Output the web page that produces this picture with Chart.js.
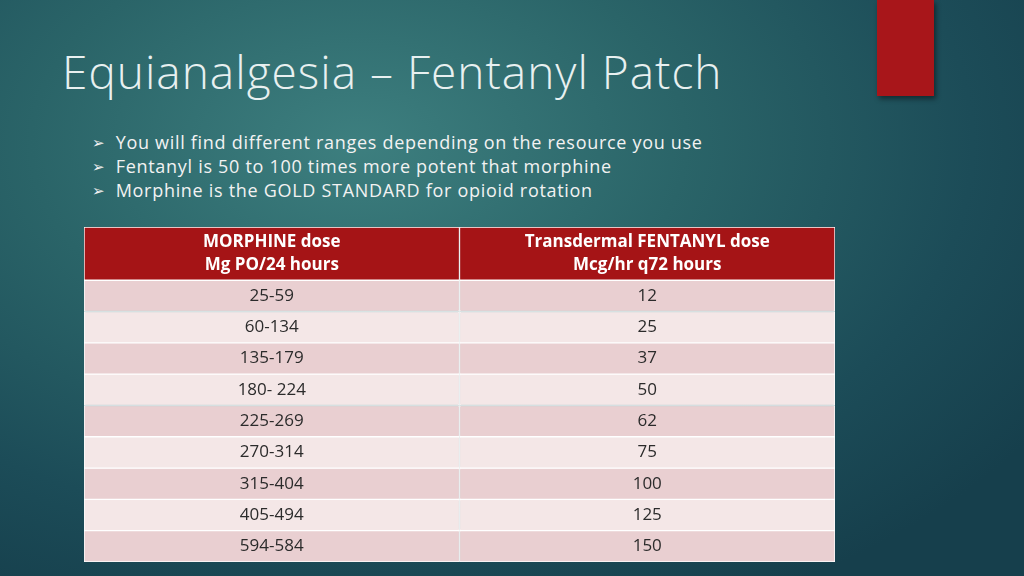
<!DOCTYPE html>
<html><head><meta charset="utf-8">
<script src="https://cdn.jsdelivr.net/npm/chart.js@4"></script>
<style>
html,body{margin:0;padding:0;}
body{width:1024px;height:576px;overflow:hidden;position:relative;font-family:"Open Sans",Lato,sans-serif;
background:radial-gradient(ellipse 80% 90% at 35% 25%, #3d7f7f 0%, #2a6468 40%, #1c4c58 75%, #163f4c 100%);}
#red{position:absolute;left:877px;top:0;width:57px;height:96px;background:#a8161a;box-shadow:2px 3px 5px rgba(0,0,0,0.45);}
h1{position:absolute;left:62px;top:40px;margin:0;font-weight:300;font-size:46px;color:#e8f0f0;font-family:"Open Sans",sans-serif;letter-spacing:1px;}
ul{position:absolute;left:92px;top:131px;margin:0;padding:0;list-style:none;color:#f2f2f2;font-size:18px;line-height:23px;letter-spacing:0.7px;}
ul li:before{content:"➢";font-size:15px;margin-right:10px;position:relative;top:-1px;}
#wrap{position:absolute;left:84px;top:227px;width:751px;height:335px;}
</style></head><body>
<div id="red"></div>
<h1>Equianalgesia – Fentanyl Patch</h1>
<ul>
<li>You will find different ranges depending on the resource you use</li>
<li>Fentanyl is 50 to 100 times more potent that morphine</li>
<li>Morphine is the GOLD STANDARD for opioid rotation</li>
</ul>
<div id="wrap"><canvas id="c"></canvas></div>
<script>
const columns = ["MORPHINE", "FENTANYL"];
const headerLeft = ["MORPHINE dose", "Mg PO/24 hours"];
const headerRight = ["Transdermal FENTANYL dose", "Mcg/hr q72 hours"];
const morphineDose = ["25-59","60-134","135-179","180- 224","225-269","270-314","315-404","405-494","594-584"];
const fentanylDose = ["12","25","37","50","62","75","100","125","150"];

const H = 1.7;
const datasets = [];
datasets.push({data:[[0,H],[0,H]], backgroundColor:"#a51416", labels:[headerLeft, headerRight], header:true});
morphineDose.forEach((m,i)=>{
  datasets.push({data:[[H+i,H+i+1],[H+i,H+i+1]], backgroundColor: i%2===0 ? "#e9cfd1" : "#f4e7e7", labels:[[m],[fentanylDose[i]]]});
});
datasets.forEach(d=>{d.borderColor="#ffffff";d.borderWidth=1;d.borderSkipped=false;d.grouped=false;d.barPercentage=1;d.categoryPercentage=1;});

const textPlugin={id:"txt",afterDatasetsDraw(chart){
  const ctx=chart.ctx;
  chart.data.datasets.forEach((ds,i)=>{
    chart.getDatasetMeta(i).data.forEach((el,j)=>{
      const lines=ds.labels[j];
      const cy=(el.y+el.base)/2;
      ctx.save();
      ctx.textAlign="center";ctx.textBaseline="middle";
      ctx.fillStyle=ds.header?"#ffffff":"#2b2b2b";
      ctx.font=(ds.header?"bold ":"")+"17px 'Open Sans', sans-serif";
      const lh=23;
      lines.forEach((t,k)=>ctx.fillText(t,el.x,cy+(k-(lines.length-1)/2)*lh));
      ctx.restore();
    });
  });
}};

new Chart(document.getElementById("c"),{
  type:"bar",
  data:{labels:columns,datasets},
  options:{responsive:true,maintainAspectRatio:false,animation:false,
    layout:{padding:0},
    plugins:{legend:{display:false},tooltip:{enabled:false}},
    scales:{
      x:{display:false},
      y:{display:false,min:0,max:H+morphineDose.length,reverse:true}
    }},
  plugins:[textPlugin]
});
</script>
</body></html>
